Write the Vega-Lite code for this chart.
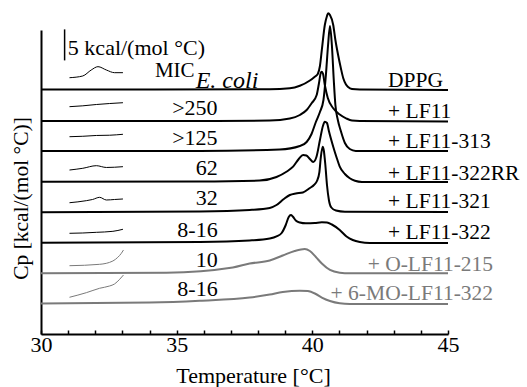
{
 "$schema": "https://vega.github.io/schema/vega-lite/v6.json",
 "width": 407, "height": 304,
 "autosize": {"type": "none"},
 "padding": {"left": 41, "top": 30, "right": 79, "bottom": 53},
 "background": "white",
 "config": {"view": {"stroke": null}, "font": "'Liberation Serif', 'Times New Roman', Times, serif"},
 "datasets": {
  "curves": [
   {"s":"DPPG","t":30,"v":39.41},{"s":"DPPG","t":34,"v":39.41},{"s":"DPPG","t":38.43,"v":39.44},{"s":"DPPG","t":39.17,"v":39.6},{"s":"DPPG","t":39.54,"v":40.01},{"s":"DPPG","t":39.91,"v":40.86},{"s":"DPPG","t":40.09,"v":41.47},{"s":"DPPG","t":40.2,"v":41.91},{"s":"DPPG","t":40.28,"v":43.2},{"s":"DPPG","t":40.35,"v":45.78},{"s":"DPPG","t":40.46,"v":49.81},{"s":"DPPG","t":40.54,"v":51.26},{"s":"DPPG","t":40.58,"v":51.69},{"s":"DPPG","t":40.65,"v":51.42},{"s":"DPPG","t":40.77,"v":49.81},{"s":"DPPG","t":40.85,"v":47.39},{"s":"DPPG","t":40.95,"v":44.97},{"s":"DPPG","t":41.05,"v":42.88},{"s":"DPPG","t":41.14,"v":41.22},{"s":"DPPG","t":41.24,"v":40.22},{"s":"DPPG","t":41.32,"v":39.81},{"s":"DPPG","t":41.46,"v":39.49},{"s":"DPPG","t":41.75,"v":39.41},{"s":"DPPG","t":45,"v":39.33},
   {"s":"+ LF11","t":30,"v":34.33},{"s":"+ LF11","t":35.85,"v":34.33},{"s":"+ LF11","t":38.43,"v":34.41},{"s":"+ LF11","t":39.17,"v":34.73},{"s":"+ LF11","t":39.54,"v":35.3},{"s":"+ LF11","t":39.79,"v":36.1},{"s":"+ LF11","t":39.98,"v":37.23},{"s":"+ LF11","t":40.16,"v":38.52},{"s":"+ LF11","t":40.24,"v":40.3},{"s":"+ LF11","t":40.31,"v":42.07},{"s":"+ LF11","t":40.34,"v":42.28},{"s":"+ LF11","t":40.39,"v":41.99},{"s":"+ LF11","t":40.46,"v":40.14},{"s":"+ LF11","t":40.57,"v":38.04},{"s":"+ LF11","t":40.77,"v":36.38},{"s":"+ LF11","t":41.01,"v":35.38},{"s":"+ LF11","t":41.26,"v":34.73},{"s":"+ LF11","t":41.46,"v":34.41},{"s":"+ LF11","t":41.75,"v":34.33},{"s":"+ LF11","t":45,"v":34.25},
   {"s":"+ LF11-313","t":30,"v":29.5},{"s":"+ LF11-313","t":35.85,"v":29.5},{"s":"+ LF11-313","t":38.8,"v":29.74},{"s":"+ LF11-313","t":39.54,"v":30.3},{"s":"+ LF11-313","t":39.79,"v":30.95},{"s":"+ LF11-313","t":39.97,"v":32.24},{"s":"+ LF11-313","t":40.13,"v":34.17},{"s":"+ LF11-313","t":40.28,"v":35.78},{"s":"+ LF11-313","t":40.41,"v":37.72},{"s":"+ LF11-313","t":40.5,"v":41.75},{"s":"+ LF11-313","t":40.58,"v":46.58},{"s":"+ LF11-313","t":40.65,"v":49.65},{"s":"+ LF11-313","t":40.72,"v":46.58},{"s":"+ LF11-313","t":40.79,"v":40.94},{"s":"+ LF11-313","t":40.85,"v":36.91},{"s":"+ LF11-313","t":40.94,"v":34.49},{"s":"+ LF11-313","t":41.05,"v":32.72},{"s":"+ LF11-313","t":41.2,"v":30.79},{"s":"+ LF11-313","t":41.38,"v":29.82},{"s":"+ LF11-313","t":41.6,"v":29.5},{"s":"+ LF11-313","t":45,"v":29.5},
   {"s":"+ LF11-322RR","t":30,"v":24.55},{"s":"+ LF11-322RR","t":35.85,"v":24.58},{"s":"+ LF11-322RR","t":38.06,"v":24.74},{"s":"+ LF11-322RR","t":38.68,"v":25.31},{"s":"+ LF11-322RR","t":39.06,"v":26.19},{"s":"+ LF11-322RR","t":39.29,"v":26.97},{"s":"+ LF11-322RR","t":39.5,"v":28.21},{"s":"+ LF11-322RR","t":39.66,"v":28.85},{"s":"+ LF11-322RR","t":39.78,"v":28.77},{"s":"+ LF11-322RR","t":39.91,"v":28.21},{"s":"+ LF11-322RR","t":40.03,"v":27.72},{"s":"+ LF11-322RR","t":40.15,"v":28.53},{"s":"+ LF11-322RR","t":40.28,"v":31.27},{"s":"+ LF11-322RR","t":40.39,"v":33.53},{"s":"+ LF11-322RR","t":40.46,"v":34.22},{"s":"+ LF11-322RR","t":40.54,"v":34.01},{"s":"+ LF11-322RR","t":40.61,"v":32.72},{"s":"+ LF11-322RR","t":40.77,"v":30.19},{"s":"+ LF11-322RR","t":40.9,"v":28.37},{"s":"+ LF11-322RR","t":41.01,"v":26.97},{"s":"+ LF11-322RR","t":41.2,"v":25.79},{"s":"+ LF11-322RR","t":41.38,"v":25.1},{"s":"+ LF11-322RR","t":41.57,"v":24.69},{"s":"+ LF11-322RR","t":41.83,"v":24.5},{"s":"+ LF11-322RR","t":45,"v":24.5},
   {"s":"+ LF11-321","t":30,"v":19.62},{"s":"+ LF11-321","t":35.85,"v":19.75},{"s":"+ LF11-321","t":37.69,"v":19.99},{"s":"+ LF11-321","t":38.43,"v":20.31},{"s":"+ LF11-321","t":38.68,"v":20.79},{"s":"+ LF11-321","t":38.95,"v":21.76},{"s":"+ LF11-321","t":39.17,"v":22.4},{"s":"+ LF11-321","t":39.39,"v":22.65},{"s":"+ LF11-321","t":39.65,"v":22.81},{"s":"+ LF11-321","t":39.91,"v":23.53},{"s":"+ LF11-321","t":40.06,"v":24.02},{"s":"+ LF11-321","t":40.17,"v":24.66},{"s":"+ LF11-321","t":40.26,"v":26.11},{"s":"+ LF11-321","t":40.31,"v":28.37},{"s":"+ LF11-321","t":40.38,"v":30.19},{"s":"+ LF11-321","t":40.42,"v":29.66},{"s":"+ LF11-321","t":40.48,"v":27.24},{"s":"+ LF11-321","t":40.54,"v":24.02},{"s":"+ LF11-321","t":40.61,"v":21.6},{"s":"+ LF11-321","t":40.7,"v":20.39},{"s":"+ LF11-321","t":40.87,"v":19.9},{"s":"+ LF11-321","t":41.2,"v":19.71},{"s":"+ LF11-321","t":45,"v":19.66},
   {"s":"+ LF11-322","t":30,"v":14.72},{"s":"+ LF11-322","t":35.85,"v":14.83},{"s":"+ LF11-322","t":37.69,"v":15.07},{"s":"+ LF11-322","t":38.43,"v":15.39},{"s":"+ LF11-322","t":38.68,"v":15.72},{"s":"+ LF11-322","t":38.87,"v":16.28},{"s":"+ LF11-322","t":39.02,"v":17.57},{"s":"+ LF11-322","t":39.13,"v":18.86},{"s":"+ LF11-322","t":39.21,"v":19.18},{"s":"+ LF11-322","t":39.28,"v":18.94},{"s":"+ LF11-322","t":39.39,"v":18.29},{"s":"+ LF11-322","t":39.54,"v":17.97},{"s":"+ LF11-322","t":39.76,"v":17.84},{"s":"+ LF11-322","t":40.09,"v":17.89},{"s":"+ LF11-322","t":40.35,"v":18.0},{"s":"+ LF11-322","t":40.54,"v":17.97},{"s":"+ LF11-322","t":40.72,"v":17.65},{"s":"+ LF11-322","t":41.01,"v":16.76},{"s":"+ LF11-322","t":41.26,"v":15.72},{"s":"+ LF11-322","t":41.49,"v":15.15},{"s":"+ LF11-322","t":41.75,"v":14.83},{"s":"+ LF11-322","t":42.12,"v":14.67},{"s":"+ LF11-322","t":45,"v":14.67},
   {"s":"+ O-LF11-215","t":30,"v":9.78},{"s":"+ O-LF11-215","t":34.62,"v":9.88},{"s":"+ O-LF11-215","t":37.07,"v":10.72},{"s":"+ O-LF11-215","t":37.69,"v":11.36},{"s":"+ O-LF11-215","t":38.43,"v":11.85},{"s":"+ O-LF11-215","t":38.91,"v":12.65},{"s":"+ O-LF11-215","t":39.35,"v":13.38},{"s":"+ O-LF11-215","t":39.72,"v":13.7},{"s":"+ O-LF11-215","t":39.91,"v":13.38},{"s":"+ O-LF11-215","t":40.13,"v":12.41},{"s":"+ O-LF11-215","t":40.35,"v":11.36},{"s":"+ O-LF11-215","t":40.65,"v":10.32},{"s":"+ O-LF11-215","t":41.01,"v":9.88},{"s":"+ O-LF11-215","t":41.38,"v":9.78},{"s":"+ O-LF11-215","t":45,"v":9.78},
   {"s":"+ 6-MO-LF11-322","t":30,"v":4.92},{"s":"+ 6-MO-LF11-322","t":34.0,"v":5.08},{"s":"+ 6-MO-LF11-322","t":35.85,"v":5.37},{"s":"+ 6-MO-LF11-322","t":37.69,"v":5.88},{"s":"+ 6-MO-LF11-322","t":38.43,"v":6.37},{"s":"+ 6-MO-LF11-322","t":38.91,"v":6.77},{"s":"+ 6-MO-LF11-322","t":39.54,"v":6.98},{"s":"+ 6-MO-LF11-322","t":39.83,"v":6.93},{"s":"+ 6-MO-LF11-322","t":40.13,"v":6.45},{"s":"+ 6-MO-LF11-322","t":40.35,"v":5.88},{"s":"+ 6-MO-LF11-322","t":40.65,"v":5.32},{"s":"+ 6-MO-LF11-322","t":41.01,"v":4.95},{"s":"+ 6-MO-LF11-322","t":41.38,"v":4.84},{"s":"+ 6-MO-LF11-322","t":45,"v":4.84}
  ],
  "insets": [
   {"s":"DPPG","t":31.05,"v":41.31},{"s":"DPPG","t":31.54,"v":41.59},{"s":"DPPG","t":31.85,"v":42.55},{"s":"DPPG","t":32.1,"v":43.09},{"s":"DPPG","t":32.41,"v":42.55},{"s":"DPPG","t":32.71,"v":42.12},{"s":"DPPG","t":33.02,"v":42.12},
   {"s":"+ LF11","t":31.05,"v":36.64},{"s":"+ LF11","t":31.54,"v":36.78},{"s":"+ LF11","t":32.04,"v":36.99},{"s":"+ LF11","t":32.53,"v":37.15},{"s":"+ LF11","t":33.02,"v":37.28},
   {"s":"+ LF11-313","t":31.05,"v":31.8},{"s":"+ LF11-313","t":31.54,"v":31.87},{"s":"+ LF11-313","t":32.04,"v":32.0},{"s":"+ LF11-313","t":32.53,"v":32.04},{"s":"+ LF11-313","t":33.02,"v":32.19},
   {"s":"+ LF11-322RR","t":31.05,"v":26.43},{"s":"+ LF11-322RR","t":31.54,"v":26.71},{"s":"+ LF11-322RR","t":32.04,"v":27.13},{"s":"+ LF11-322RR","t":32.41,"v":26.84},{"s":"+ LF11-322RR","t":33.02,"v":26.97},
   {"s":"+ LF11-321","t":31.05,"v":21.16},{"s":"+ LF11-321","t":31.67,"v":21.49},{"s":"+ LF11-321","t":31.9,"v":21.68},{"s":"+ LF11-321","t":32.16,"v":22.03},{"s":"+ LF11-321","t":32.41,"v":21.6},{"s":"+ LF11-321","t":32.71,"v":21.68},{"s":"+ LF11-321","t":33.02,"v":21.76},
   {"s":"+ LF11-322","t":31.05,"v":16.23},{"s":"+ LF11-322","t":31.54,"v":16.28},{"s":"+ LF11-322","t":32.04,"v":16.39},{"s":"+ LF11-322","t":32.65,"v":16.55},{"s":"+ LF11-322","t":33.02,"v":16.88},
   {"s":"+ O-LF11-215","t":31.05,"v":11.01},{"s":"+ O-LF11-215","t":32.16,"v":11.23},{"s":"+ O-LF11-215","t":32.65,"v":11.77},{"s":"+ O-LF11-215","t":32.83,"v":12.36},{"s":"+ O-LF11-215","t":32.96,"v":13.0},{"s":"+ O-LF11-215","t":33.04,"v":13.54},
   {"s":"+ 6-MO-LF11-322","t":31.05,"v":5.92},{"s":"+ 6-MO-LF11-322","t":31.67,"v":6.66},{"s":"+ 6-MO-LF11-322","t":32.16,"v":7.37},{"s":"+ 6-MO-LF11-322","t":32.53,"v":7.74},{"s":"+ 6-MO-LF11-322","t":32.71,"v":8.06},{"s":"+ 6-MO-LF11-322","t":32.9,"v":8.82},{"s":"+ 6-MO-LF11-322","t":33.04,"v":9.51}
  ],
  "labLeft": [
   {"s":"DPPG","t":42.79,"v":39.77},{"s":"+ LF11","t":42.79,"v":34.77},{"s":"+ LF11-313","t":42.79,"v":30.0},{"s":"+ LF11-322RR","t":42.79,"v":24.82},{"s":"+ LF11-321","t":42.79,"v":20.26},{"s":"+ LF11-322","t":42.79,"v":15.26}
  ],
  "labRight": [
   {"s":"+ O-LF11-215","t":46.66,"v":10.2},{"s":"+ 6-MO-LF11-322","t":46.66,"v":5.43}
  ],
  "mic": [
   {"m":">250","t":36.51,"v":35.3},{"m":">125","t":36.51,"v":30.46},{"m":"62","t":36.51,"v":25.63},{"m":"32","t":36.51,"v":20.79},{"m":"8-16","t":36.51,"v":15.68},{"m":"10","t":36.51,"v":10.85},{"m":"8-16","t":36.51,"v":6.13}
  ],
  "micHead": [{"m":"MIC","t":35.66,"v":41.38}],
  "micSub": [{"m":"E. coli","t":35.7,"v":39.73}],
  "barText": [{"m":"5 kcal/(mol °C)","t":30.99,"v":44.97}],
  "bar": [{"t":30.87,"v":44.1,"v2":49.1}]
 },
 "encoding": {
  "x": {"field":"t","type":"quantitative","scale":{"domain":[30,45],"nice":false,"zero":false},
        "axis":{"title":"Temperature [°C]","values":[30,31,32,33,34,35,36,37,38,39,40,41,42,43,44,45],
                "labelExpr":"datum.value % 5 === 0 ? datum.label : ''","tickSize":-4,"labelPadding":4,
                "labelFontSize":22,"labelColor":"#000","labelOverlap":false,"labelFlush":false,
                "titleFontSize":22,"titleFontWeight":"normal","titleColor":"#000",
                "titleX":212,"titleY":48.5,"titleBaseline":"alphabetic",
                "domainWidth":2,"domainColor":"#000","tickWidth":1.5,"tickColor":"#000","grid":false}},
  "y": {"field":"v","type":"quantitative","scale":{"domain":[0,49],"nice":false,"zero":false},
        "axis":{"title":"Cp [kcal/(mol °C)]","ticks":false,"labels":false,"grid":false,
                "domainWidth":2,"domainColor":"#000",
                "titleFontSize":21.5,"titleFontWeight":"normal","titleColor":"#000",
                "titleAngle":-90,"titleX":-13.5,"titleY":168,"titleBaseline":"alphabetic","titleAlign":"center"}}
 },
 "layer": [
  {"data":{"name":"curves"},"mark":{"type":"line","strokeWidth":2,"interpolate":"monotone","clip":false},
   "encoding":{"color":{"field":"s","type":"nominal","legend":null,
     "scale":{"domain":["DPPG","+ LF11","+ LF11-313","+ LF11-322RR","+ LF11-321","+ LF11-322","+ O-LF11-215","+ 6-MO-LF11-322"],
              "range":["#000","#000","#000","#000","#000","#000","#7a7a7a","#7a7a7a"]}}}},
  {"data":{"name":"insets"},"mark":{"type":"line","strokeWidth":1,"interpolate":"monotone"},
   "encoding":{"color":{"field":"s","type":"nominal","legend":null}}},
  {"data":{"name":"bar"},"mark":{"type":"rule","strokeWidth":1.5,"color":"#000","clip":false},
   "encoding":{"y2":{"field":"v2"}}},
  {"data":{"name":"labLeft"},"mark":{"type":"text","align":"left","baseline":"alphabetic","fontSize":21.5},
   "encoding":{"text":{"field":"s"},"color":{"field":"s","type":"nominal","legend":null}}},
  {"data":{"name":"labRight"},"mark":{"type":"text","align":"right","baseline":"alphabetic","fontSize":21.5},
   "encoding":{"text":{"field":"s"},"color":{"field":"s","type":"nominal","legend":null}}},
  {"data":{"name":"mic"},"mark":{"type":"text","align":"right","baseline":"alphabetic","fontSize":22,"color":"#000"},
   "encoding":{"text":{"field":"m"}}},
  {"data":{"name":"micHead"},"mark":{"type":"text","align":"right","baseline":"alphabetic","fontSize":21,"color":"#000"},
   "encoding":{"text":{"field":"m"}}},
  {"data":{"name":"micSub"},"mark":{"type":"text","align":"left","baseline":"alphabetic","fontSize":24,"fontStyle":"italic","color":"#000"},
   "encoding":{"text":{"field":"m"}}},
  {"data":{"name":"barText"},"mark":{"type":"text","align":"left","baseline":"alphabetic","fontSize":22,"color":"#000","clip":false},
   "encoding":{"text":{"field":"m"}}}
 ]
}
